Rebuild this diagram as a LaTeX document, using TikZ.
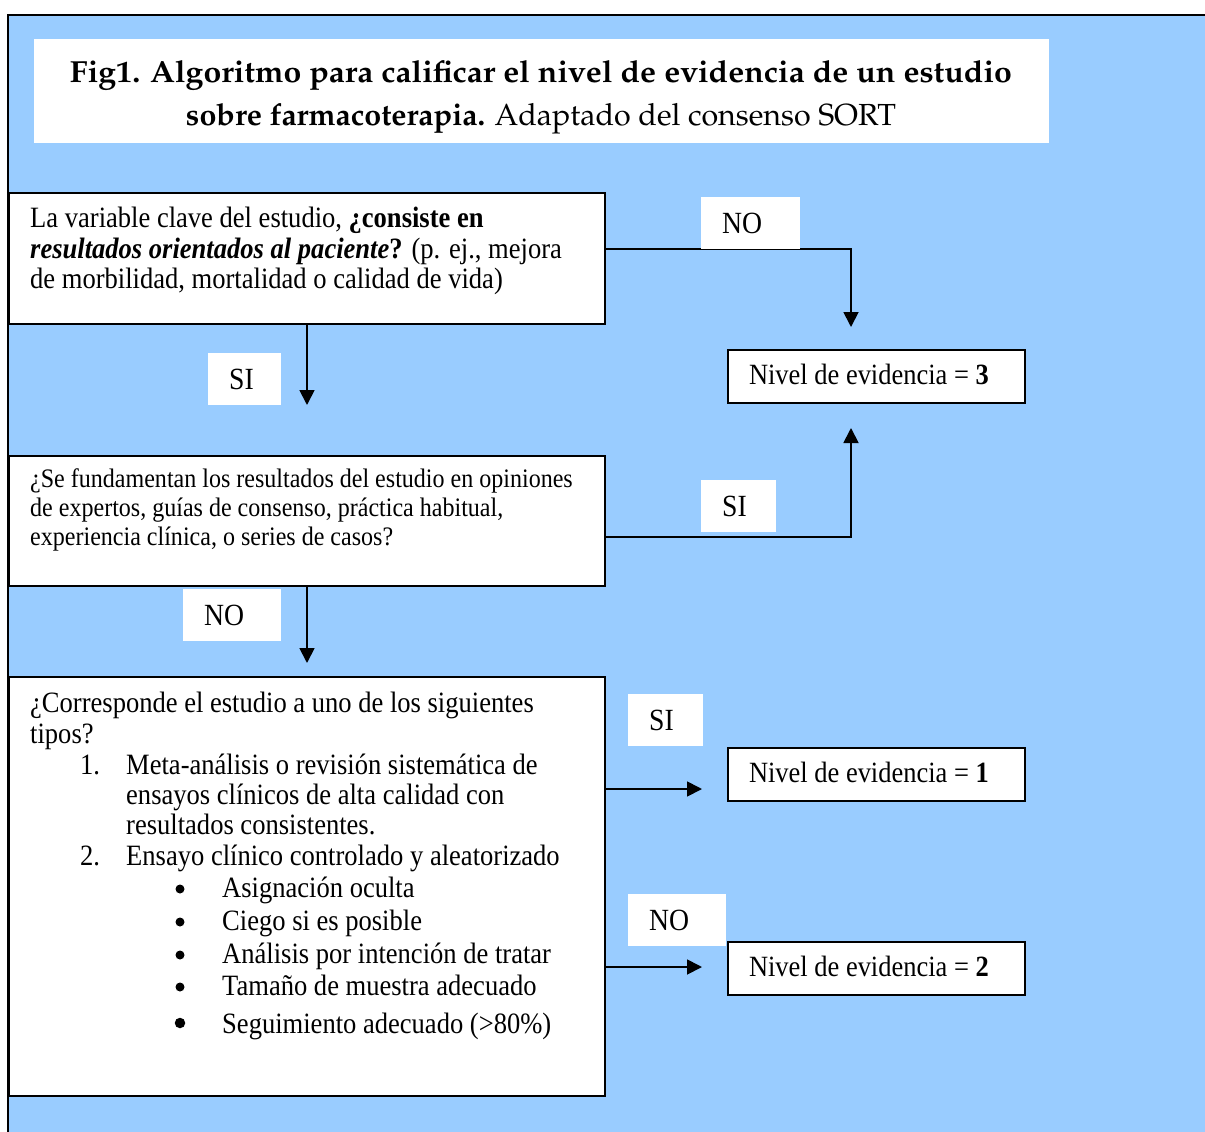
\documentclass[tikz,border=0pt]{standalone}
\usepackage[T1]{fontenc}
\usepackage{fontspec}
\usepackage{graphicx}
\setmainfont{Liberation Serif}[FakeStretch=0.9]
\usetikzlibrary{arrows.meta}
\definecolor{bg}{RGB}{153,204,255}
\newcommand\palfont{\fontencoding{T1}\fontfamily{ppl}\selectfont}
\tikzset{
 boxq/.style={draw, line width=2pt, fill=white, rectangle, inner sep=0pt, anchor=north west},
 lbl/.style={fill=white, inner xsep=21pt, inner ysep=0pt, text height=36pt, text depth=16pt, align=flush left, anchor=north west, font=\fontsize{30.8}{34}\selectfont},
 nivel/.style={draw, line width=2pt, fill=white, inner xsep=21pt, inner ysep=0pt, text width=255pt, text height=34pt, text depth=19pt, align=flush left, anchor=north west, font=\fontsize{29.4}{33}\selectfont},
 arr/.style={line width=1.8pt, -{Triangle[length=15pt,width=15pt]}},
 ln/.style={anchor=base west, inner sep=0pt},
 ta/.style={ln, font=\fontsize{29.5}{31}\selectfont},
 tb/.style={ln, font=\fontsize{26.7}{29}\selectfont},
 bul/.style={circle, fill=black, inner sep=0pt, minimum size=9pt},
}
\begin{document}
\begin{tikzpicture}[x=1pt, y=-1pt]
\useasboundingbox (0,0) rectangle (1205,1132);
% background frame
\fill[bg] (8,15) rectangle (1205,1132);
\draw[line width=2.5pt] (8,1132) -- (8,15) -- (1205,15);
% title
\node[fill=white, minimum width=1015pt, minimum height=104pt, anchor=north west, inner sep=0pt] (tbox) at (34,39) {};
\node[anchor=base, inner sep=0pt] (ti1) at (541,82) {\resizebox{942pt}{\height}{\fontsize{30.5}{36}\palfont\bfseries Fig1. Algoritmo para calificar el nivel de evidencia de un estudio}};
\node[anchor=base, inner sep=0pt] (ti2) at (541,125) {\resizebox{710pt}{\height}{\fontsize{30.5}{36}\palfont\textbf{sobre farmacoterapia.} Adaptado del consenso SORT}};
% question boxes
\node[boxq, minimum width=596pt, minimum height=131pt] (q1) at (8,192) {};
\node[boxq, minimum width=596pt, minimum height=130pt] (q2) at (8,455) {};
\node[boxq, minimum width=596pt, minimum height=419pt] (q3) at (8,676) {};
% result boxes
\node[nivel] (n3) at (727,349) {Nivel de evidencia = \textbf{3}};
\node[nivel] (n1) at (727,747) {Nivel de evidencia = \textbf{1}};
\node[nivel] (n2) at (727,941) {Nivel de evidencia = \textbf{2}};
% box 1 text
\node[ta] (q1a) at (30,227) {La variable clave del estudio, \textbf{¿consiste en}};
\node[ta] (q1b) at (30,258) {\textbf{\textit{resultados orientados al paciente}?} (p. ej., mejora};
\node[ta] (q1c) at (30,288) {de morbilidad, mortalidad o calidad de vida)};
% box 2 text
\node[tb] (q2a) at (30,487) {¿Se fundamentan los resultados del estudio en opiniones};
\node[tb] (q2b) at (30,516) {de expertos, guías de consenso, práctica habitual,};
\node[tb] (q2c) at (30,545) {experiencia clínica, o series de casos?};
% box 3 text
\node[ta] (q3a) at (30,712) {¿Corresponde el estudio a uno de los siguientes};
\node[ta] (q3b) at (30,743) {tipos?};
\node[ta] (q3n1) at (80,774) {1.};
\node[ta] (q3c) at (126,774) {Meta-análisis o revisión sistemática de};
\node[ta] (q3d) at (126,804) {ensayos clínicos de alta calidad con};
\node[ta] (q3e) at (126,834) {resultados consistentes.};
\node[ta] (q3n2) at (80,865) {2.};
\node[ta] (q3f) at (126,865) {Ensayo clínico controlado y aleatorizado};
\node[bul] (b1) at (180,889) {};
\node[bul] (b2) at (180,922) {};
\node[bul] (b3) at (180,955) {};
\node[bul] (b4) at (180,987) {};
\node[bul, minimum size=10.5pt] (b5) at (180,1023) {};
\node[ta] (q3g) at (222,897) {Asignación oculta};
\node[ta] (q3h) at (222,930) {Ciego si es posible};
\node[ta] (q3i) at (222,963) {Análisis por intención de tratar};
\node[ta] (q3j) at (222,995) {Tamaño de muestra adecuado};
\node[ta] (q3k) at (222,1033) {Seguimiento adecuado (>80\%)};
% connectors
\coordinate (k1) at (851,249);
\coordinate (tip3a) at (851,327);
\coordinate (k2) at (851,537);
\coordinate (tip3b) at (851,428);
\coordinate (d1) at (307,405);
\coordinate (d2) at (307,663);
\coordinate (r1) at (702,789);
\coordinate (r2) at (702,967);
\draw[arr] (q1.east |- k1) -| (tip3a);
\draw[arr] (q2.east |- k2) -| (tip3b);
\draw[arr] (q1.south -| d1) -- (d1);
\draw[arr] (q2.south -| d2) -- (d2);
\draw[arr] (q3.east |- r1) -- (r1);
\draw[arr] (q3.east |- r2) -- (r2);
% labels
\node[lbl, text width=57pt] (lno1) at (701,197) {NO};
\node[lbl, text width=31pt] (lsi1) at (208,353) {SI};
\node[lbl, text width=33pt] (lsi2) at (701,480) {SI};
\node[lbl, text width=56pt] (lno2) at (183,589) {NO};
\node[lbl, text width=33pt] (lsi3) at (628,694) {SI};
\node[lbl, text width=56pt] (lno3) at (628,894) {NO};
\end{tikzpicture}
\end{document}
